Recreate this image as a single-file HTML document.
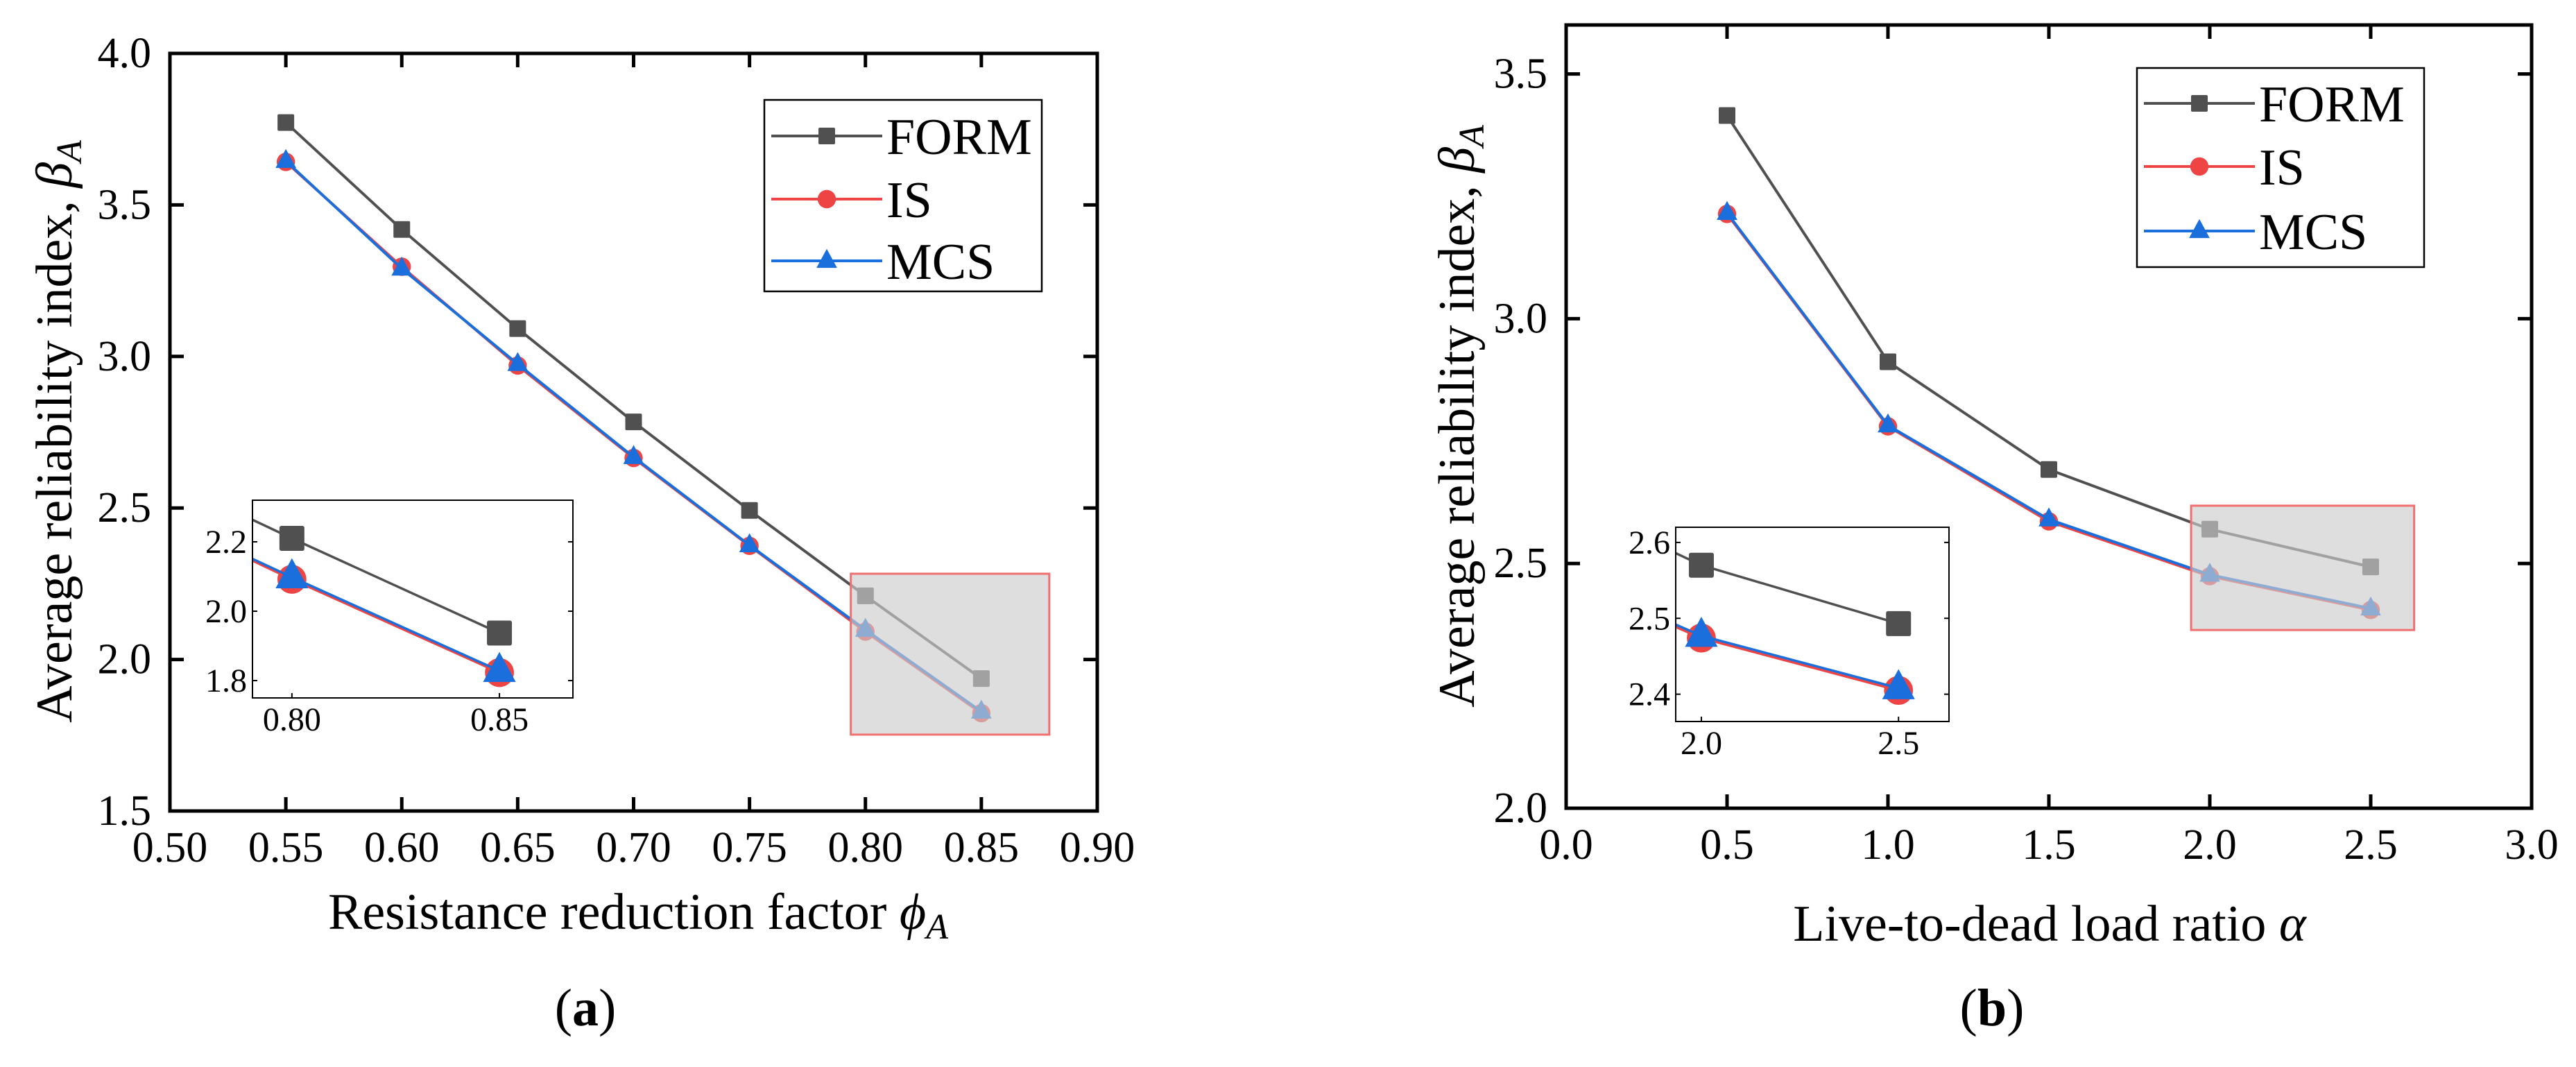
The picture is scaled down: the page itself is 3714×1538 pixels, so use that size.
<!DOCTYPE html>
<html><head><meta charset="utf-8"><style>
html,body{margin:0;padding:0;background:#fff;}
svg{display:block;}
text{font-family:"Liberation Serif",serif;fill:#000;}
</style></head><body>
<svg id="fig" width="3714" height="1538" viewBox="0 0 3714 1538" xmlns="http://www.w3.org/2000/svg"></svg>
<script>
// ---- data panel (a)
const aX = [0.55, 0.60, 0.65, 0.70, 0.75, 0.80, 0.85];
const aFORM = [3.772, 3.419, 3.092, 2.784, 2.492, 2.210, 1.937];
const aIS = [3.642, 3.296, 2.970, 2.665, 2.375, 2.092, 1.823];
const aMCS = [3.645, 3.290, 2.975, 2.668, 2.377, 2.098, 1.828];
const aXTicks = ["0.50","0.55","0.60","0.65","0.70","0.75","0.80","0.85","0.90"];
const aYTicks = ["1.5","2.0","2.5","3.0","3.5","4.0"];
const aInsetXTicks = ["0.80","0.85"];
const aInsetYTicks = ["1.8","2.0","2.2"];
// ---- data panel (b)
const bX = [0.5, 1.0, 1.5, 2.0, 2.5];
const bFORM = [3.415, 2.912, 2.692, 2.570, 2.493];
const bIS = [3.214, 2.780, 2.586, 2.474, 2.405];
const bMCS = [3.216, 2.782, 2.590, 2.477, 2.408];
const bXTicks = ["0.0","0.5","1.0","1.5","2.0","2.5","3.0"];
const bYTicks = ["2.0","2.5","3.0","3.5"];
const bInsetXTicks = ["2.0","2.5"];
const bInsetYTicks = ["2.4","2.5","2.6"];

const NS = "http://www.w3.org/2000/svg";
const svg = document.getElementById('fig');
const C = {FORM:"#505050", IS:"#ee4444", MCS:"#1a6fdc"};
function mk(tag, attrs, parent){
  const e = document.createElementNS(NS, tag);
  for (const k in attrs) e.setAttribute(k, attrs[k]);
  (parent||svg).appendChild(e); return e;
}
function marker(g, type, cx, cy, s, color){
  let e;
  if (type==='FORM') e = mk('rect',{x:cx-s/2,y:cy-s/2,width:s,height:s,fill:color,rx:s*0.08},g);
  else if (type==='IS') e = mk('circle',{cx:cx,cy:cy,r:s*0.55,fill:color},g);
  else e = mk('polygon',{points:`${cx},${cy-s*0.72} ${cx-s*0.62},${cy+s*0.42} ${cx+s*0.62},${cy+s*0.42}`,fill:color},g);
  return e;
}
function drawSeries(g, xs, ys, sx, sy, type, lw, ms, clipId){
  const pts = xs.map((x,i)=>sx(x)+','+sy(ys[i])).join(' ');
  const pl = mk('polyline',{points:pts,fill:'none',stroke:C[type],'stroke-width':lw,'stroke-linejoin':'round'},g);
  
  
  xs.forEach((x,i)=>{
    const m = marker(g, type, sx(x), sy(ys[i]), ms, C[type]);
    
    
  });
}
function panel(p){
  const g = mk('g',{});
  
  
  const sx = v => p.L + (v-p.x0)/(p.x1-p.x0)*(p.R-p.L);
  const sy = v => p.B - (v-p.y0)/(p.y1-p.y0)*(p.B-p.T);
  // series
  const sg = mk('g',{},g);
  drawSeries(sg, p.xs, p.F, sx, sy, 'FORM', 4, 24);
  drawSeries(sg, p.xs, p.I, sx, sy, 'IS', 4, 24);
  drawSeries(sg, p.xs, p.M, sx, sy, 'MCS', 4, 24);
  // grey zoom box
  const zb = mk('rect',{x:sx(p.box[0]),y:sy(p.box[3]),width:sx(p.box[1])-sx(p.box[0]),height:sy(p.box[2])-sy(p.box[3]),fill:'rgb(205,205,205)','fill-opacity':0.65,stroke:'#f07070','stroke-width':3},g);
  
  
  // axes frame
  const fr = mk('rect',{x:p.L,y:p.T,width:p.R-p.L,height:p.B-p.T,fill:'none',stroke:'#000','stroke-width':5},g);
  
  
  p.xt.forEach(t=>{
    const x = sx(parseFloat(t));
    mk('line',{x1:x,y1:p.B,x2:x,y2:p.B-20,stroke:'#000','stroke-width':5},g);
    mk('line',{x1:x,y1:p.T,x2:x,y2:p.T+20,stroke:'#000','stroke-width':5},g);
    const tx = mk('text',{x:x,y:p.B+73,'font-size':62,'text-anchor':'middle'},g);
    tx.textContent = t;
    
    
  });
  p.yt.forEach(t=>{
    const y = sy(parseFloat(t));
    mk('line',{x1:p.L,y1:y,x2:p.L+20,y2:y,stroke:'#000','stroke-width':5},g);
    mk('line',{x1:p.R,y1:y,x2:p.R-20,y2:y,stroke:'#000','stroke-width':5},g);
    const tx = mk('text',{x:p.L-27,y:y+20,'font-size':62,'text-anchor':'end'},g);
    tx.textContent = t;
    
    
  });
  // legend
  const lg = mk('g',{},g);
  
  
  mk('rect',{x:p.leg.x,y:p.leg.y,width:p.leg.w,height:p.leg.h,fill:'#fff',stroke:'#000','stroke-width':2.5},lg);
  ['FORM','IS','MCS'].forEach((s,i)=>{
    const y = p.leg.rows[i];
    const en = mk('g',{},lg);
    
    
    mk('line',{x1:p.leg.x+10,y1:y,x2:p.leg.x+170,y2:y,stroke:C[s],'stroke-width':4},en);
    marker(en, s, p.leg.x+90, y, 24, C[s]);
    const tx = mk('text',{x:p.leg.x+176,y:y+26,'font-size':74},en);
    tx.textContent = s;
  });
  // inset
  const ins = p.inset;
  const ig = mk('g',{},g);
  
  
  const ix = v => ins.L + (v-ins.x0)/(ins.x1-ins.x0)*(ins.R-ins.L);
  const iy = v => ins.B - (v-ins.y0)/(ins.y1-ins.y0)*(ins.B-ins.T);
  mk('rect',{x:ins.L,y:ins.T,width:ins.R-ins.L,height:ins.B-ins.T,fill:'#fff'},ig);
  const cid = 'clip'+p.name;
  const cp = mk('clipPath',{id:cid},ig);
  mk('rect',{x:ins.L,y:ins.T,width:ins.R-ins.L,height:ins.B-ins.T},cp);
  const isg = mk('g',{'clip-path':'url(#'+cid+')'},ig);
  drawSeries(isg, p.xs, p.F, ix, iy, 'FORM', 3.5, 36);
  drawSeries(isg, p.xs, p.I, ix, iy, 'IS', 3.5, 38);
  drawSeries(isg, p.xs, p.M, ix, iy, 'MCS', 3.5, 38);
  mk('rect',{x:ins.L,y:ins.T,width:ins.R-ins.L,height:ins.B-ins.T,fill:'none',stroke:'#000','stroke-width':2},ig);
  ins.xt.forEach(t=>{
    const x = ix(parseFloat(t));
    mk('line',{x1:x,y1:ins.B,x2:x,y2:ins.B-7,stroke:'#000','stroke-width':2},ig);
    const tx = mk('text',{x:x,y:ins.B+47,'font-size':48,'text-anchor':'middle'},ig);
    tx.textContent = t;
    
    
  });
  ins.yt.forEach(t=>{
    const y = iy(parseFloat(t));
    mk('line',{x1:ins.L,y1:y,x2:ins.L+7,y2:y,stroke:'#000','stroke-width':2},ig);
    mk('line',{x1:ins.R,y1:y,x2:ins.R-7,y2:y,stroke:'#000','stroke-width':2},ig);
    const tx = mk('text',{x:ins.L-8,y:y+16,'font-size':48,'text-anchor':'end'},ig);
    tx.textContent = t;
    
    
  });
}
panel({name:'panel-a', L:245,R:1582,T:77,B:1169,x0:0.5,x1:0.9,y0:1.5,y1:4.0,
  xs:aX,F:aFORM,I:aIS,M:aMCS,xt:aXTicks,yt:aYTicks,box:[0.7937,0.8793,1.752,2.283],
  leg:{x:1102,y:144,w:400,h:276,rows:[196,287,376]},
  inset:{L:364,R:826,T:721,B:1006,x0:0.7905,x1:0.8677,y0:1.75,y1:2.32,xt:aInsetXTicks,yt:aInsetYTicks}});
panel({name:'panel-b', L:2258,R:3650,T:36,B:1165,x0:0,x1:3,y0:2.0,y1:3.6,
  xs:bX,F:bFORM,I:bIS,M:bMCS,xt:bXTicks,yt:bYTicks,box:[1.942,2.635,2.364,2.618],
  leg:{x:3081,y:98,w:414,h:287,rows:[149,240,333]},
  inset:{L:2416,R:2810,T:760,B:1040,x0:1.935,x1:2.628,y0:2.364,y1:2.62,xt:bInsetXTicks,yt:bInsetYTicks}});
</script>
<svg style="position:absolute;left:0;top:0" width="3714" height="1538" xmlns="http://www.w3.org/2000/svg">
  <text x="920" y="1339" font-size="74" text-anchor="middle" font-family="Liberation Serif">Resistance reduction factor <tspan font-style="italic">ϕ</tspan><tspan font-style="italic" font-size="52" dy="14">A</tspan></text>
  <text transform="translate(103,622) rotate(-90)" font-size="74" text-anchor="middle" font-family="Liberation Serif">Average reliability index, <tspan font-style="italic">β</tspan><tspan font-style="italic" font-size="52" dy="14">A</tspan></text>
  <text x="844" y="1478" font-size="76" text-anchor="middle" font-family="Liberation Serif">(<tspan font-weight="bold">a</tspan>)</text>
  <text x="2955" y="1356" font-size="74" text-anchor="middle" font-family="Liberation Serif">Live-to-dead load ratio <tspan font-style="italic">α</tspan></text>
  <text transform="translate(2125,600) rotate(-90)" font-size="74" text-anchor="middle" font-family="Liberation Serif">Average reliability index, <tspan font-style="italic">β</tspan><tspan font-style="italic" font-size="52" dy="14">A</tspan></text>
  <text x="2872" y="1478" font-size="76" text-anchor="middle" font-family="Liberation Serif">(<tspan font-weight="bold">b</tspan>)</text>
</svg>
</body></html>
